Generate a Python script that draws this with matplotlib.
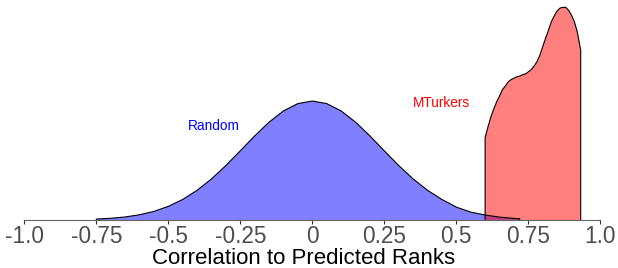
import numpy as np
import matplotlib
matplotlib.use("Agg")
import matplotlib.pyplot as plt

plt.rcParams['font.family'] = ['Liberation Sans', 'DejaVu Sans']

# density curves
random_x = [-0.75, -0.70, -0.65, -0.60, -0.55, -0.50, -0.45, -0.40, -0.35, -0.30,
            -0.25, -0.20, -0.15, -0.10, -0.05, 0.00, 0.05, 0.10, 0.15, 0.20,
            0.25, 0.30, 0.35, 0.40, 0.45, 0.50, 0.55, 0.60, 0.65, 0.70, 0.72]
random_y = [0.013, 0.024, 0.042, 0.073, 0.120, 0.190, 0.287, 0.415, 0.574, 0.761,
            0.966, 1.175, 1.367, 1.524, 1.626, 1.662, 1.626, 1.524, 1.367, 1.175,
            0.966, 0.761, 0.574, 0.415, 0.287, 0.180, 0.110, 0.070, 0.040, 0.022, 0.018]

mturk_x = [0.600, 0.610, 0.620, 0.630, 0.640, 0.650, 0.660, 0.670, 0.680, 0.690,
           0.700, 0.710, 0.720, 0.730, 0.740, 0.750, 0.760, 0.770, 0.780, 0.790,
           0.800, 0.810, 0.820, 0.830, 0.840, 0.850, 0.860, 0.870, 0.880, 0.890,
           0.900, 0.910, 0.920, 0.932]
mturk_y = [1.15, 1.30, 1.44, 1.55, 1.65, 1.73, 1.82, 1.87, 1.93, 1.96,
           1.98, 2.00, 2.01, 2.03, 2.04, 2.07, 2.10, 2.15, 2.21, 2.30,
           2.42, 2.54, 2.65, 2.77, 2.85, 2.92, 2.96, 2.97, 2.97, 2.93,
           2.86, 2.77, 2.63, 2.37]

ticks = [-1.0, -0.75, -0.5, -0.25, 0, 0.25, 0.5, 0.75, 1.0]
tick_labels = ['-1.0', '-0.75', '-0.5', '-0.25', '0', '0.25', '0.5', '0.75', '1.0']

fig = plt.figure(figsize=(6.18, 2.68), dpi=100)
ax = fig.add_axes([24.3/618, 48/268, 576/618, 220/268])

for xs, ys, col in [(random_x, random_y, '#0000FF'), (mturk_x, mturk_y, '#FF0000')]:
    px = np.concatenate([[xs[0]], xs, [xs[-1]]])
    py = np.concatenate([[0], ys, [0]])
    ax.fill(px, py, color=col, alpha=0.5, lw=0)
    ax.plot(px, py, color='black', lw=0.8, solid_joinstyle='round')

ax.text(-0.341, 1.31, 'Random', color='#0000FF', fontsize=9.8, ha='center', va='center')
ax.text(0.45, 1.63, 'MTurkers', color='#FF0000', fontsize=9.8, ha='center', va='center')

ax.set_xlim(-1.0, 1.0)
ax.set_ylim(0, 3.073)
ax.set_xticks(ticks)
ax.set_xticklabels(tick_labels)
ax.tick_params(axis='x', colors='#333333', labelcolor='#4D4D4D', labelsize=16.3,
               length=3, width=0.8, pad=0.8)
ax.set_yticks([])
for s in ['left', 'top', 'right']:
    ax.spines[s].set_visible(False)
ax.spines['bottom'].set_color('#666666')
ax.spines['bottom'].set_linewidth(0.8)
ax.set_xlabel('Correlation to Predicted Ranks', fontsize=16, va='baseline')
ax.xaxis.set_label_coords(0.484, -44/220)
ax.patch.set_alpha(0)

fig.savefig('out.png', dpi=100)
